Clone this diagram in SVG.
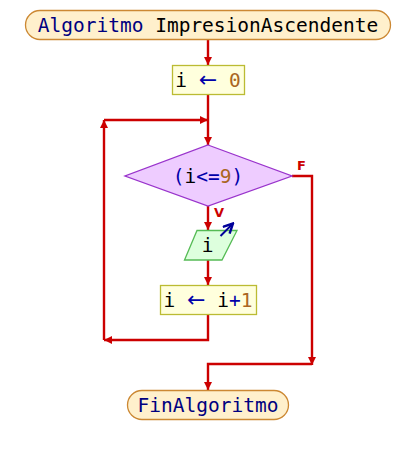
<svg xmlns="http://www.w3.org/2000/svg" width="416" height="455" viewBox="0 0 416 455">
<style>
.t{font-family:"DejaVu Sans Mono","Liberation Mono",monospace;font-size:19.5px}
.kw{fill:#000080}
.id{fill:#000000}
.op{fill:#0000aa}
.arr{fill:#0000aa;font-family:"DejaVu Sans",sans-serif;font-size:22px}
.num{fill:#aa6622}
.term{fill:#fff0cc;stroke:#cc8833;stroke-width:1.3}
.proc{fill:#ffffdd;stroke:#bbbb33;stroke-width:1.3}
.dec{fill:#eeccff;stroke:#9933cc;stroke-width:1.3}
.io{fill:#ddffdd;stroke:#55bb55;stroke-width:1.3}
.ln{fill:none;stroke:#cc0000;stroke-width:2.4}
.lab{font-family:"DejaVu Sans","Liberation Sans",sans-serif;font-size:13px;font-weight:bold;fill:#cc0000}
</style>
<defs>
<marker id="ah" viewBox="0 0 10 10" refX="10" refY="5" markerWidth="8" markerHeight="9" orient="auto" markerUnits="userSpaceOnUse" >
<path d="M0,0 L10,5 L0,10 z" fill="#cc0000"/>
</marker>
<marker id="ab" viewBox="0 0 10 10" refX="9" refY="5" markerWidth="6" markerHeight="6" orient="auto">
<path d="M1,1 L9,5 L1,9" fill="none" stroke="#000099" stroke-width="2"/>
</marker>
</defs>
<g id="connectors">
<path class="ln" d="M208,40 V65" marker-end="url(#ah)"/>
<path class="ln" d="M208,95 V145" marker-end="url(#ah)"/>
<path class="ln" d="M208,206 V230" marker-end="url(#ah)"/>
<path class="ln" d="M208,260 V285" marker-end="url(#ah)"/>
<path class="ln" d="M208,315 V340 H104" marker-end="url(#ah)"/>
<path class="ln" d="M104,340 V120" marker-end="url(#ah)"/>
<path class="ln" d="M104,120 H208" marker-end="url(#ah)"/>
<path class="ln" d="M292,176 H312 V365" marker-end="url(#ah)"/>
<path class="ln" d="M312,364 H208 V390" marker-end="url(#ah)"/>
<text class="lab" x="297" y="170">F</text>
<text class="lab" x="214" y="217">V</text>
</g>
<g id="start">
<rect class="term" x="25.5" y="10.5" width="365" height="29" rx="14.5"/>
<text class="t" x="208" y="32" text-anchor="middle"><tspan class="kw">Algoritmo</tspan><tspan class="id"> ImpresionAscendente</tspan></text>
</g>
<g id="assign1">
<rect class="proc" x="172.5" y="65.5" width="72" height="29"/>
<text class="t" x="208" y="87" text-anchor="middle"><tspan class="id">i </tspan><tspan class="arr">←</tspan><tspan class="num"> 0</tspan></text>
</g>
<g id="cond">
<polygon class="dec" points="208,145 292,176 208,206 125,176"/>
<text class="t" x="208" y="183" text-anchor="middle"><tspan class="op">(</tspan><tspan class="id">i</tspan><tspan class="op">&lt;=</tspan><tspan class="num">9</tspan><tspan class="op">)</tspan></text>
</g>
<g id="output">
<polygon class="io" points="197,230.5 237,230.5 222,260 184.5,260"/>
<text class="t" x="207.5" y="252" text-anchor="middle"><tspan class="id">i</tspan></text>
<path d="M220.5,236 L233,223.5" stroke="#000099" stroke-width="2" fill="none" marker-end="url(#ab)"/>
</g>
<g id="assign2">
<rect class="proc" x="160.5" y="285.5" width="96" height="29"/>
<text class="t" x="208" y="307" text-anchor="middle"><tspan class="id">i </tspan><tspan class="arr">←</tspan><tspan class="id"> i</tspan><tspan class="op">+</tspan><tspan class="num">1</tspan></text>
</g>
<g id="end">
<rect class="term" x="127.5" y="390.5" width="161" height="29" rx="14.5"/>
<text class="t" x="208" y="412" text-anchor="middle"><tspan class="kw">FinAlgoritmo</tspan></text>
</g>
</svg>
